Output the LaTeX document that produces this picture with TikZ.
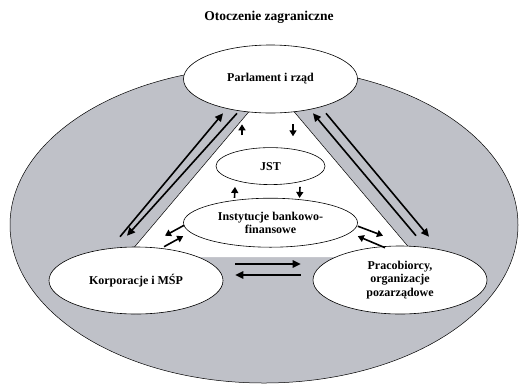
\documentclass[tikz,border=0pt]{standalone}
\usepackage{fontspec}
\setmainfont{Liberation Serif}
\usetikzlibrary{shapes.geometric, arrows.meta, positioning}
\definecolor{outergrey}{RGB}{191,193,200}

\tikzset{
  actor/.style={ellipse, draw, fill=white, line width=0.6pt, inner sep=0pt, align=center,
    font=\bfseries\fontsize{12}{13.5}\selectfont},
  flow/.style={-{Triangle[length=8pt,width=7.5pt]}, line width=1.6pt},
  small flow/.style={-{Triangle[length=6pt,width=7pt]}, line width=1.6pt}
}

\begin{document}
\begin{tikzpicture}[x=1pt, y=-1pt]
\useasboundingbox (0,0) rectangle (519,384);
% Outer environment
\node[font=\bfseries\fontsize{13.5}{15}\selectfont] (title) at (269,17) {Otoczenie zagraniczne};
\draw[fill=outergrey, line width=0.5pt] (264,225) ellipse [x radius=254pt, y radius=158pt];
\fill[white] (271.5,85) -- (126,257) -- (417,257) -- cycle;
\draw[line width=0.5pt] (126,257) -- (271.5,85) -- (417,257);

% Actors
\node[actor, minimum width=174pt, minimum height=68pt] (parl) at (270.5,79) {Parlament i rząd};
\node[actor, minimum width=109pt, minimum height=37pt, below=34pt of parl] (jst) {JST};
\node[actor, minimum width=174pt, minimum height=49pt, below=13pt of jst] (inst) {Instytucje bankowo-\\finansowe};
\node[actor, minimum width=174pt, minimum height=67pt] (korp) at (136,280.5) {Korporacje i MŚP};
\node[actor, minimum width=174pt, minimum height=68pt] (prac) at (400,280) {Pracobiorcy,\\organizacje\\pozarządowe};

% Parlament <-> Korporacje / Pracobiorcy
\draw[flow] ([shift={(-16,-10)}]korp.north) -- ([shift={(-47.5,0)}]parl.south);
\draw[flow] ([shift={(-33.5,0)}]parl.south) -- ([shift={(-9,-11)}]korp.north);
\draw[flow] ([shift={(16,-10)}]prac.north) -- ([shift={(42.5,0)}]parl.south);
\draw[flow] ([shift={(55.5,0)}]parl.south) -- ([shift={(29,-9)}]prac.north);

% Inner flows
\draw[small flow] ([shift={(-28.5,-12)}]jst.north) -- ([shift={(-28.5,11)}]parl.south);
\draw[small flow] ([shift={(22.5,11)}]parl.south) -- ([shift={(22.5,-11)}]jst.north);
\draw[small flow] ([shift={(-36,0)}]inst.north) -- ([shift={(-35.5,2)}]jst.south);
\draw[small flow] ([shift={(29.5,2)}]jst.south) -- ([shift={(29,0)}]inst.north);

\draw[small flow] ([shift={(1,2.5)}]inst.west) -- ([shift={(29,-11)}]korp.north);
\draw[small flow] ([shift={(28,0)}]korp.north) -- ([shift={(0,13.5)}]inst.west);
\draw[small flow] ([shift={(0,3.5)}]inst.east) -- ([shift={(-17,-10)}]prac.north);
\draw[small flow] ([shift={(-15,2)}]prac.north) -- ([shift={(0,13.5)}]inst.east);

% Korporacje <-> Pracobiorcy
\draw[flow] ([shift={(12,-16.5)}]korp.east) -- ([shift={(-12,-16)}]prac.west);
\draw[flow] ([shift={(-12,-5)}]prac.west) -- ([shift={(12,-5.5)}]korp.east);
\end{tikzpicture}
\end{document}
